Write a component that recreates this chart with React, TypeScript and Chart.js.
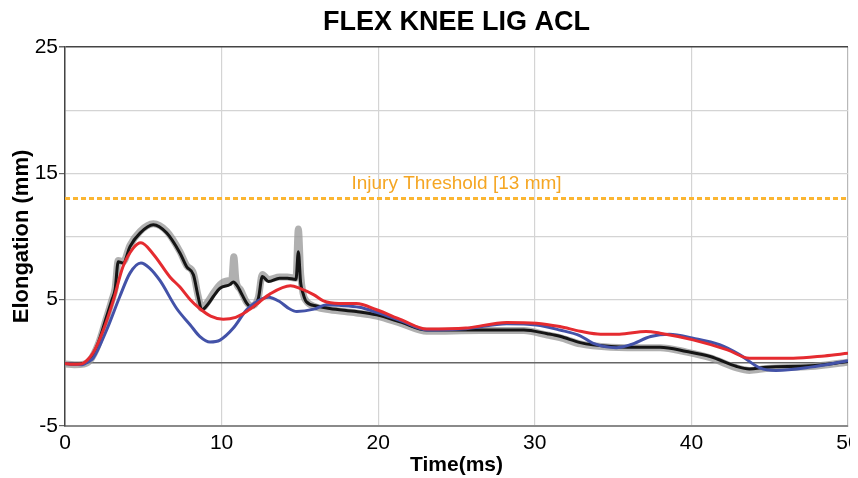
import React, { useEffect, useRef } from "react";
import { Chart, registerables } from "chart.js";

Chart.register(...registerables);

const chartTitle = "FLEX KNEE LIG ACL";
const xTitle = "Time(ms)";
const yTitle = "Elongation (mm)";
const thresholdLabel = "Injury Threshold [13 mm]";
const thresholdValue = 13;
const yLabeledTicks = [-5, 5, 15, 25];

const redT = [0, 0.5, 1.0, 1.4, 1.8, 2.45, 3.1, 3.7, 4.36, 4.85, 5.64, 6.7, 7.34, 8.0, 8.6, 9.3, 10.1, 10.9, 11.6, 12.4, 13.1, 14.4, 15.0, 15.9, 16.5, 17.5, 18.6, 19.9, 21.5, 23.1, 25.6, 28.2, 30.1, 31.6, 32.9, 34.2, 35.4, 37.1, 38.0, 40.1, 42.3, 43.7, 46.5, 48.5, 50];
const redV = [-0.05, -0.12, -0.1, 0.2, 0.8, 2.6, 5.0, 7.6, 9.08, 9.5, 8.6, 6.8, 6.0, 5.0, 4.3, 3.7, 3.45, 3.6, 4.06, 4.8, 5.46, 6.1, 5.9, 5.38, 4.9, 4.7, 4.7, 4.2, 3.4, 2.67, 2.75, 3.2, 3.14, 2.87, 2.5, 2.27, 2.27, 2.48, 2.35, 1.82, 1.03, 0.37, 0.37, 0.55, 0.75];

const blueT = [0, 0.5, 1.1, 1.5, 1.8, 2.66, 3.5, 4.15, 4.85, 5.4, 6.07, 7.13, 8.0, 8.6, 9.26, 9.9, 10.75, 11.6, 12.3, 13.0, 13.7, 14.3, 14.8, 15.9, 16.7, 17.5, 18.8, 19.9, 21.5, 23.1, 25.6, 28.2, 30.1, 31.6, 32.9, 33.7, 35.2, 36.1, 37.4, 38.6, 40.1, 41.8, 43.1, 44.4, 45.4, 47.6, 50];
const blueV = [-0.05, -0.12, -0.15, 0.1, 0.37, 2.6, 5.25, 7.1, 7.9, 7.5, 6.5, 4.3, 3.0, 2.1, 1.65, 1.8, 2.75, 4.2, 4.9, 5.2, 4.85, 4.3, 4.06, 4.25, 4.6, 4.55, 4.4, 4.0, 3.3, 2.6, 2.7, 3.1, 3.0, 2.6, 2.14, 1.56, 1.2, 1.43, 2.08, 2.27, 1.95, 1.43, 0.63, -0.42, -0.6, -0.34, 0.16];

const blackT = [0, 0.6, 1.2, 1.6, 2.1, 2.66, 3.0, 3.2, 3.4, 3.72, 4.15, 4.79, 5.64, 6.5, 7.34, 7.77, 8.2, 8.5, 8.73, 9.1, 9.47, 9.9, 10.54, 10.75, 11.0, 11.2, 11.6, 11.9, 12.35, 12.6, 13.0, 13.7, 14.2, 14.75, 14.9, 15.05, 15.2, 15.4, 16.07, 16.9, 18.6, 19.9, 21.5, 23.1, 26.5, 29.3, 30.8, 31.6, 32.9, 33.7, 35.9, 38.0, 39.7, 41.2, 42.9, 43.7, 44.8, 47.6, 50];
const blackV = [-0.05, -0.1, -0.05, 0.24, 1.5, 3.67, 5.0, 5.8, 8.0, 7.9, 9.2, 10.27, 10.93, 10.27, 8.69, 7.6, 6.97, 5.25, 4.2, 4.6, 5.25, 5.9, 6.2, 6.4, 6.1, 5.65, 4.73, 4.4, 5.1, 6.83, 6.44, 6.7, 6.7, 6.6, 8.8, 6.3, 5.5, 4.85, 4.5, 4.3, 4.06, 3.8, 3.2, 2.6, 2.6, 2.6, 2.3, 2.1, 1.6, 1.43, 1.24, 1.24, 0.9, 0.5, -0.29, -0.48, -0.34, -0.24, 0.1];

const grayT = [0, 0.6, 1.2, 1.6, 2.1, 2.66, 3.0, 3.2, 3.4, 3.72, 4.15, 4.79, 5.64, 6.5, 7.34, 7.77, 8.2, 8.5, 8.73, 9.1, 9.47, 9.9, 10.4, 10.65, 10.78, 10.92, 11.2, 11.6, 11.9, 12.35, 12.6, 13.0, 13.7, 14.2, 14.75, 14.9, 15.05, 15.2, 15.4, 16.07, 16.9, 18.6, 19.9, 21.5, 23.1, 26.5, 29.3, 30.8, 31.6, 32.9, 33.7, 35.9, 38.0, 39.7, 41.2, 42.9, 43.7, 44.8, 47.6, 50];
const grayV = [-0.1, -0.15, -0.1, 0.2, 1.4, 3.6, 5.0, 5.9, 8.1, 8.0, 9.3, 10.4, 11.0, 10.4, 8.8, 7.7, 7.1, 5.3, 4.3, 4.8, 5.5, 6.2, 6.5, 6.6, 8.4, 6.5, 5.8, 4.8, 4.5, 5.2, 7.0, 6.6, 6.8, 6.8, 6.7, 10.6, 7.0, 5.5, 4.9, 4.4, 4.2, 3.95, 3.7, 3.1, 2.5, 2.55, 2.55, 2.2, 2.0, 1.5, 1.35, 1.2, 1.2, 0.85, 0.4, -0.4, -0.6, -0.45, -0.3, 0.05];

const thresholdT = [0, 50];

const FONT = "'Liberation Sans', Arial, sans-serif";

function pts(t: number[], v: number[]) {
  return t.map((x, i) => ({ x, y: v[i] }));
}

export default function App() {
  const ref = useRef<HTMLCanvasElement | null>(null);

  useEffect(() => {
    if (!ref.current) return;
    const textPlugin = {
      id: "textPlugin",
      afterDraw(chart: any) {
        const { ctx, chartArea, scales } = chart;
        ctx.save();
        ctx.fillStyle = "#000";
        ctx.font = `bold 27px ${FONT}`;
        ctx.textAlign = "center";
        ctx.textBaseline = "middle";
        ctx.fillText(chartTitle, (chartArea.left + chartArea.right) / 2, 15);
        ctx.fillStyle = "#f5a623";
        ctx.font = `19px ${FONT}`;
        ctx.fillText(
          thresholdLabel,
          scales.x.getPixelForValue(25),
          scales.y.getPixelForValue(thresholdValue) - 15
        );
        ctx.restore();
      },
    };

    const chart = new Chart(ref.current, {
      type: "line",
      data: {
        datasets: [
          {
            label: "Red",
            data: pts(redT, redV),
            borderColor: "#e52b30",
            borderWidth: 3,
            pointRadius: 0,
            cubicInterpolationMode: "monotone",
            order: 1,
          },
          {
            label: "Blue",
            data: pts(blueT, blueV),
            borderColor: "#4352a8",
            borderWidth: 3,
            pointRadius: 0,
            cubicInterpolationMode: "monotone",
            order: 2,
          },
          {
            label: "Black",
            data: pts(blackT, blackV),
            borderColor: "#151515",
            borderWidth: 3,
            pointRadius: 0,
            cubicInterpolationMode: "monotone",
            order: 3,
          },
          {
            label: "Gray",
            data: pts(grayT, grayV),
            borderColor: "rgba(150,150,150,0.75)",
            borderWidth: 7,
            pointRadius: 0,
            cubicInterpolationMode: "monotone",
            order: 4,
          },
          {
            label: "Threshold",
            data: thresholdT.map((x) => ({ x, y: thresholdValue })),
            borderColor: "#fbb531",
            borderWidth: 3,
            borderDash: [5, 3],
            pointRadius: 0,
            order: 5,
          },
        ],
      },
      options: {
        animation: false,
        responsive: true,
        maintainAspectRatio: false,
        layout: { padding: { left: 0, top: 39, right: 2, bottom: 0 } },
        plugins: {
          legend: { display: false },
          title: { display: false },
          tooltip: { enabled: false },
        },
        scales: {
          x: {
            type: "linear",
            min: 0,
            max: 50,
            ticks: {
              stepSize: 10,
              padding: 5,
              color: "#000",
              font: { family: FONT, size: 21 },
              maxRotation: 0,
            },
            grid: {
              drawTicks: false,
              color: (c: any) =>
                c.tick && c.tick.value === 50 ? "#b8b8b8" : "#d4d4d4",
              lineWidth: 1.2,
            },
            border: { display: true, color: "#8a8a8a", width: 2 },
            title: {
              display: true,
              text: xTitle,
              color: "#000",
              font: { family: FONT, size: 21, weight: "bold" },
              padding: { top: 0, bottom: 0 },
            },
            afterFit(scale: any) {
              scale.height = 52;
              scale.paddingLeft = 0;
              scale.paddingRight = 0;
            },
          },
          y: {
            type: "linear",
            min: -5,
            max: 25,
            ticks: {
              stepSize: 5,
              padding: 1,
              color: "#000",
              font: { family: FONT, size: 21 },
              callback: (v: any) =>
                yLabeledTicks.includes(Number(v)) ? String(v) : "",
            },
            grid: {
              tickLength: 6,
              lineWidth: (c: any) =>
                c.tick && (c.tick.value === 0 || c.tick.value === 25) ? 1.5 : 1.2,
              color: (c: any) => {
                const v = c.tick ? c.tick.value : null;
                if (v === 0) return "#666";
                if (v === 25) return "#444";
                return "#d4d4d4";
              },
              tickColor: (c: any) =>
                c.tick && yLabeledTicks.includes(c.tick.value)
                  ? "#666"
                  : "rgba(0,0,0,0)",
            },
            border: { display: true, color: "#444", width: 1.5 },
            title: {
              display: true,
              text: yTitle,
              color: "#000",
              font: { family: FONT, size: 22, weight: "bold" },
              padding: { top: 1, bottom: 0 },
            },
            afterFit(scale: any) {
              scale.width = 57;
              scale.paddingTop = 0;
              scale.paddingBottom = 0;
            },
          },
        },
      },
      plugins: [textPlugin],
    } as any);

    return () => chart.destroy();
  }, []);

  return (
    <div style={{ position: "relative", width: "842px", height: "470px" }}>
      <canvas ref={ref} />
    </div>
  );
}
